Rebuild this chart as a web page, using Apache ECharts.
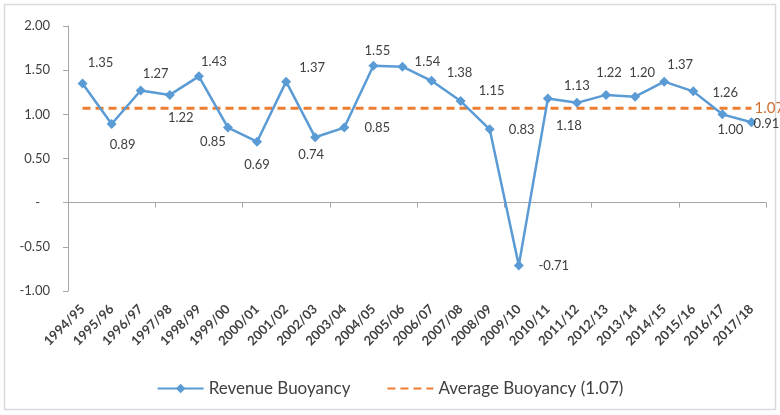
<!DOCTYPE html>
<html>
<head>
<meta charset="utf-8">
<script src="https://cdn.jsdelivr.net/npm/echarts@6/dist/echarts.min.js"></script>
<style>
html, body { margin: 0; padding: 0; background: #fff; }
#chart { width: 780px; height: 415px; }
</style>
</head>
<body>
<div id="chart"></div>
<script>
// data
var years = ['1994/95', '1995/96', '1996/97', '1997/98', '1998/99', '1999/00', '2000/01', '2001/02',
	'2002/03', '2003/04', '2004/05', '2005/06', '2006/07', '2007/08', '2008/09', '2009/10',
	'2010/11', '2011/12', '2012/13', '2013/14', '2014/15', '2015/16', '2016/17', '2017/18'];
var buoyancy = [1.35, 0.89, 1.27, 1.22, 1.43, 0.85, 0.69, 1.37, 0.74, 0.85, 1.55, 1.54,
	1.38, 1.15, 0.83, -0.71, 1.18, 1.13, 1.22, 1.20, 1.37, 1.26, 1.00, 0.91];
var averageLine = [1.07, 1.07, 1.07, 1.07, 1.07, 1.07, 1.07, 1.07, 1.07, 1.07, 1.07, 1.07,
	1.07, 1.07, 1.07, 1.07, 1.07, 1.07, 1.07, 1.07, 1.07, 1.07, 1.07, 1.07];
var yTicks = [-1, -0.5, 0, 0.5, 1, 1.5, 2];

// where each value label sits relative to its point (layout only)
var labelOffsets = [[18, -21], [11, 21], [15, -17], [11, 23], [15, -15], [-15, 14], [0, 23], [26, -14],
	[-4, 18], [33, 0], [4, -15], [25, -5], [28, -8], [31, -10], [32, 0], [35, 0],
	[21, 27], [0, -17], [3, -22], [7, -24], [16, -17], [32, 1], [8, 15], [15, 2]];

var textColor = '#404040';
var font = 'Lato';

var points = buoyancy.map(function (v, i) {
	return {
		value: v,
		label: { offset: labelOffsets[i] }
	};
});

var chart = echarts.init(document.getElementById('chart'));
var option = {
	animation: false,
	textStyle: { fontFamily: font, color: textColor },
	graphic: [{
		type: 'rect',
		shape: { x: 4.5, y: 4.5, width: 771, height: 405 },
		style: { fill: 'none', stroke: '#d9d9d9', lineWidth: 1.5 },
		silent: true
	}],
	grid: { left: 68, right: 14, top: 26, bottom: 124 },
	legend: {
		bottom: 13,
		left: 'center',
		itemGap: 36,
		itemWidth: 46,
		itemHeight: 12,
		textStyle: { fontFamily: font, fontSize: 17, color: textColor },
		data: ['Revenue Buoyancy', {
			name: 'Average Buoyancy (1.07)',
			itemStyle: { opacity: 0 }
		}]
	},
	xAxis: [{
		type: 'category',
		data: years,
		axisLine: { onZero: true, lineStyle: { color: '#a6a6a6' } },
		axisTick: { show: true, length: 5, lineStyle: { color: '#a6a6a6' } },
		axisLabel: { show: false }
	}, {
		type: 'category',
		data: years,
		position: 'bottom',
		axisLine: { show: false },
		axisTick: { show: false },
		axisLabel: {
			rotate: 45,
			margin: 16,
			interval: 0,
			fontFamily: font,
			fontSize: 13,
			fontWeight: 'bold',
			color: textColor
		}
	}],
	yAxis: {
		type: 'value',
		min: yTicks[0],
		max: yTicks[yTicks.length - 1],
		interval: 0.5,
		splitLine: { show: false },
		axisLine: { show: true, lineStyle: { color: '#a6a6a6' } },
		axisTick: { show: true, length: 5, lineStyle: { color: '#a6a6a6' } },
		axisLabel: {
			margin: 18,
			fontFamily: font,
			fontSize: 13,
			color: textColor,
			formatter: function (v) {
				return v === 0 ? '-   ' : v.toFixed(2);
			}
		}
	},
	series: [{
		name: 'Average Buoyancy (1.07)',
		type: 'line',
		xAxisIndex: 0,
		data: averageLine,
		symbol: 'none',
		lineStyle: { color: '#ed7d31', width: 3, type: [8, 5] },
		itemStyle: { color: '#ed7d31' },
		endLabel: {
			show: true,
			distance: 3,
			formatter: '1.07',
			fontFamily: font,
			fontSize: 15,
			color: '#d0702f'
		},
		z: 1
	}, {
		name: 'Revenue Buoyancy',
		type: 'line',
		xAxisIndex: 0,
		data: points,
		symbol: 'diamond',
		symbolSize: 10,
		lineStyle: { color: '#5b9bd5', width: 2.5 },
		itemStyle: { color: '#5b9bd5' },
		label: {
			show: true,
			position: 'inside',
			fontFamily: font,
			fontSize: 13,
			color: textColor,
			formatter: function (p) {
				return p.value.toFixed(2);
			}
		},
		z: 3
	}]
};
chart.setOption(option);
</script>
</body>
</html>
